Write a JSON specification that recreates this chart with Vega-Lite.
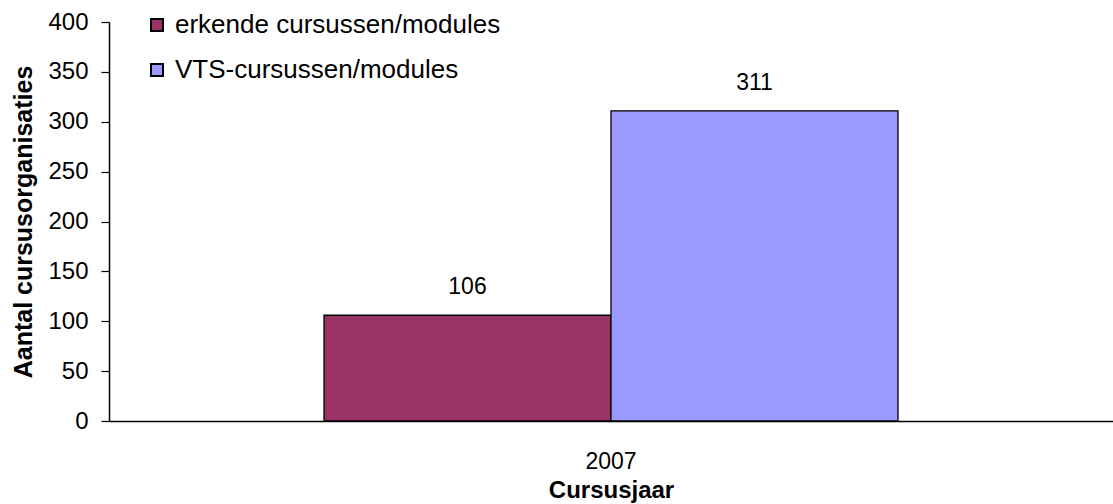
{
  "$schema": "https://vega.github.io/schema/vega-lite/v6.json",
  "width": 1004,
  "height": 399,
  "autosize": {"type": "none"},
  "padding": {"left": 109, "top": 22, "right": 0, "bottom": 83},
  "background": "white",
  "config": {
    "font": "Liberation Sans",
    "view": {"stroke": null}
  },
  "data": {
    "values": [
      {"jaar": "2007", "type": "erkende cursussen/modules", "aantal": 106},
      {"jaar": "2007", "type": "VTS-cursussen/modules", "aantal": 311}
    ]
  },
  "encoding": {
    "x": {
      "field": "jaar",
      "type": "nominal",
      "scale": {"paddingInner": 0, "paddingOuter": 0.3746},
      "axis": {
        "title": "Cursusjaar",
        "labelAngle": 0,
        "labelFont": "Liberation Sans",
        "labelFontSize": 23,
        "labelColor": "black",
        "labelPadding": 29,
        "ticks": false,
        "domainColor": "black",
        "domainWidth": 1.5,
        "titleFont": "Liberation Sans",
        "titleFontSize": 24,
        "titleFontWeight": "bold",
        "titleColor": "black",
        "titlePadding": 5
      }
    },
    "xOffset": {
      "field": "type",
      "type": "nominal",
      "sort": ["erkende cursussen/modules", "VTS-cursussen/modules"],
      "scale": {"paddingInner": 0, "paddingOuter": 0}
    },
    "y": {
      "field": "aantal",
      "type": "quantitative",
      "scale": {"domain": [0, 400], "nice": false},
      "axis": {
        "title": "Aantal cursusorganisaties",
        "values": [0, 50, 100, 150, 200, 250, 300, 350, 400],
        "grid": false,
        "labelFont": "Liberation Sans",
        "labelFontSize": 24,
        "labelColor": "black",
        "labelPadding": 13,
        "tickSize": 8,
        "tickColor": "black",
        "tickWidth": 1.2,
        "domainColor": "black",
        "domainWidth": 1.5,
        "titleFont": "Liberation Sans",
        "titleFontSize": 25,
        "titleFontWeight": "bold",
        "titleColor": "black",
        "titleX": -86,
        "titleBaseline": "middle"
      }
    }
  },
  "layer": [
    {
      "mark": {"type": "bar", "stroke": "black", "strokeWidth": 1.3, "opacity": 1},
      "encoding": {
        "color": {
          "field": "type",
          "type": "nominal",
          "scale": {
            "domain": ["erkende cursussen/modules", "VTS-cursussen/modules"],
            "range": ["#993366", "#9999FF"]
          },
          "legend": {
            "title": null,
            "orient": "none",
            "legendX": 35,
            "legendY": -10,
            "padding": 0,
            "symbolType": "square",
            "symbolSize": 144,
            "symbolStrokeColor": "black",
            "symbolStrokeWidth": 2,
            "symbolOpacity": 1,
            "labelFont": "Liberation Sans",
            "labelFontSize": 26,
            "labelColor": "black",
            "labelOffset": 5,
            "labelLimit": 0,
            "rowPadding": 19
          }
        }
      }
    },
    {
      "mark": {
        "type": "text",
        "baseline": "alphabetic",
        "dy": -21,
        "font": "Liberation Sans",
        "fontSize": 23,
        "color": "black"
      },
      "encoding": {
        "text": {"field": "aantal", "type": "quantitative"}
      }
    }
  ]
}
